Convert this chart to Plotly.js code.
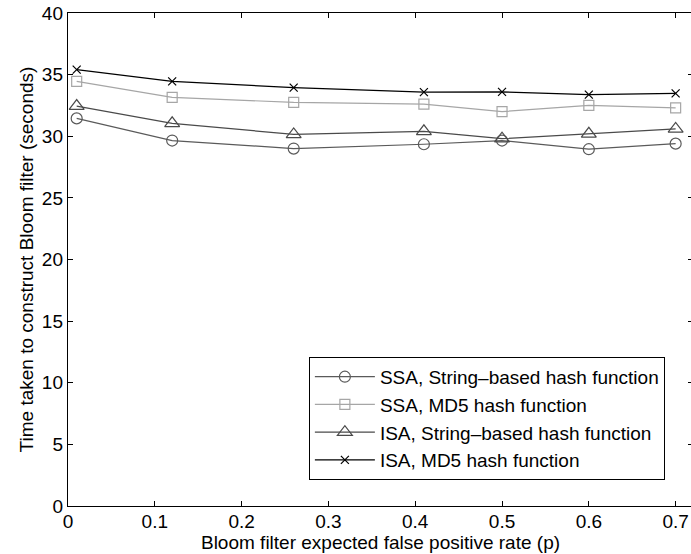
<!DOCTYPE html>
<html>
<head>
<meta charset="utf-8">
<script src="https://cdn.plot.ly/plotly-3.0.1.min.js"></script>
<style>
html,body{margin:0;padding:0;overflow:hidden;background:#fff;}
#chart{width:693px;height:554px;}
</style>
</head>
<body>
<div id="chart"></div>
<script>
var pValues = [0.01, 0.12, 0.26, 0.41, 0.5, 0.6, 0.7];
var ssaString = [31.45, 29.65, 29.0, 29.35, 29.65, 28.95, 29.4];
var ssaMD5 = [34.45, 33.15, 32.75, 32.6, 32.0, 32.5, 32.3];
var isaString = [32.45, 31.05, 30.15, 30.4, 29.8, 30.2, 30.6];
var isaMD5 = [35.4, 34.45, 33.95, 33.58, 33.6, 33.38, 33.48];
var seriesNames = [
  "SSA, String\u2013based hash function",
  "SSA, MD5 hash function",
  "ISA, String\u2013based hash function",
  "ISA, MD5 hash function"
];
var xTickVals = [0, 0.1, 0.2, 0.3, 0.4, 0.5, 0.6, 0.7];
var yTickVals = [0, 5, 10, 15, 20, 25, 30, 35, 40];

var font = "Liberation Sans, Arial, Helvetica, sans-serif";
var fs = 19;

function tr(y, name, color, symbol, size) {
  return {
    x: pValues, y: y, name: name, type: "scatter", mode: "lines+markers",
    line: {color: color, width: 1.2},
    marker: {symbol: symbol, size: size, color: color, line: {color: color, width: 1.2}}
  };
}

var data = [
  tr(ssaString, seriesNames[0], "#5a5a5a", "circle-open", 11),
  tr(ssaMD5, seriesNames[1], "#a6a6a6", "square-open", 10),
  tr(isaString, seriesNames[2], "#4a4a4a", "triangle-up-open", 13),
  tr(isaMD5, seriesNames[3], "#000000", "x-thin-open", 8)
];

var axisCommon = {
  showline: true, linecolor: "#000", linewidth: 1.2, mirror: "ticks",
  ticks: "inside", ticklen: 5, tickwidth: 1, tickcolor: "#000",
  showgrid: false, zeroline: false,
  tickfont: {family: font, size: fs, color: "#000"}
};

var layout = {
  width: 693, height: 554,
  margin: {l: 68, r: 0, t: 13, b: 48},
  paper_bgcolor: "#fff", plot_bgcolor: "#fff",
  font: {family: font, size: fs, color: "#000"},
  xaxis: Object.assign({}, axisCommon, {
    range: [0, 0.72], tickmode: "array", tickvals: xTickVals,
    ticktext: xTickVals.map(function(v){return String(v);}),
    ticklabelstandoff: -2,
    title: {text: "Bloom filter expected false positive rate (p)", font: {family: font, size: fs, color: "#000"}, standoff: 0}
  }),
  yaxis: Object.assign({}, axisCommon, {
    range: [0, 40], tickmode: "array", tickvals: yTickVals,
    ticktext: yTickVals.map(function(v){return String(v);}),
    title: {text: "Time taken to construct Bloom filter (seconds)", font: {family: font, size: fs, color: "#000"}, standoff: 3}
  }),
  legend: {
    x: 0.955, y: 0.053, xanchor: "right", yanchor: "bottom",
    bgcolor: "#fff", bordercolor: "#000", borderwidth: 1,
    font: {family: font, size: fs, color: "#000"},
    itemwidth: 60, tracegroupgap: 0
  },
  showlegend: true
};

Plotly.newPlot("chart", data, layout, {displayModeBar: false, staticPlot: true});
</script>
</body>
</html>
